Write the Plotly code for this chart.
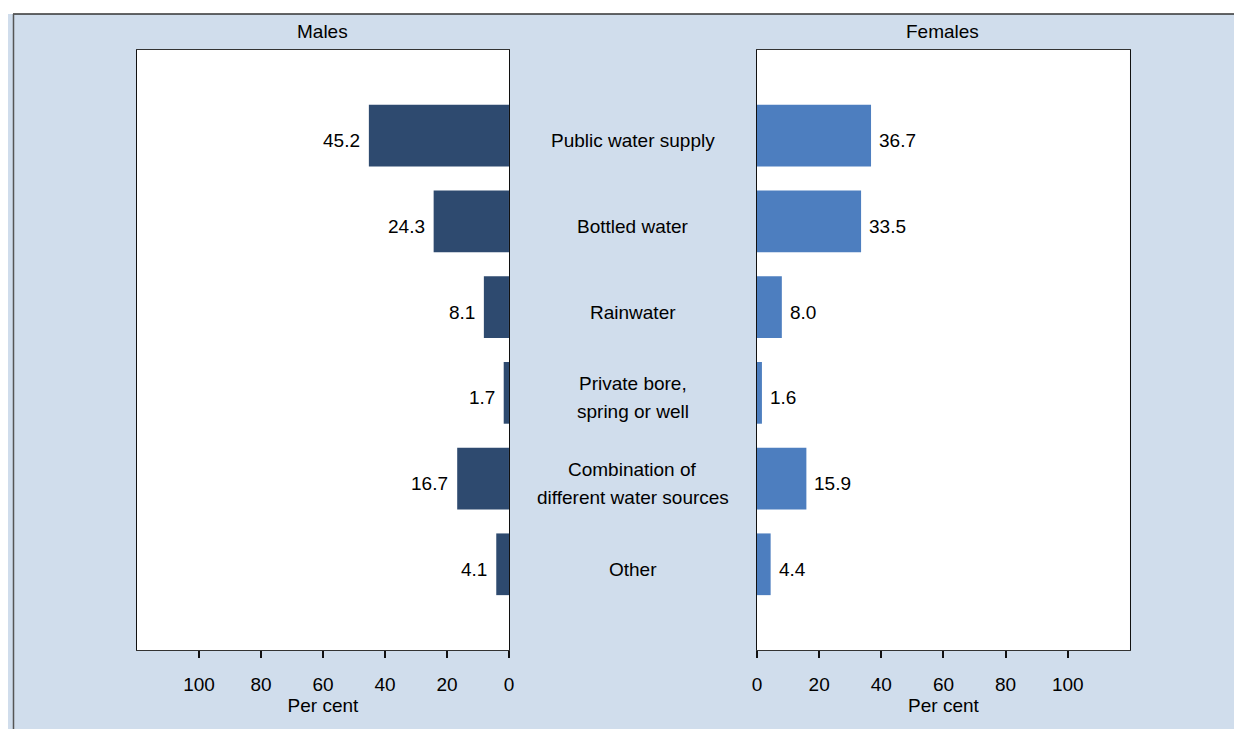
import plotly.graph_objects as go

# data
categories = [
    "Public water supply",
    "Bottled water",
    "Rainwater",
    "Private bore,<br>spring or well",
    "Combination of<br>different water sources",
    "Other",
]
males = [45.2, 24.3, 8.1, 1.7, 16.7, 4.1]
females = [36.7, 33.5, 8.0, 1.6, 15.9, 4.4]
tick_vals = [0, 20, 40, 60, 80, 100]

W, H = 1242, 729
FONT = "Arial, Liberation Sans, sans-serif"
FS = 19
TXT = "#000000"
BG = "#d0ddec"
MALE_COLOUR = "#2e4a6f"
FEMALE_COLOUR = "#4d7ebf"
ROW_SHIFT = -5  # row text sits a little below the bar centre


# page pixel -> paper fraction (corrects for page offset in the browser)
def fx(p):
    return ((p - 13) / 0.992) / W


def fy(p):
    return 1 - (p - 8) / H


ypos = list(range(len(categories)))

fig = go.Figure()
fig.add_trace(go.Bar(
    x=males, y=ypos, orientation="h", xaxis="x", yaxis="y",
    marker=dict(color=MALE_COLOUR, line=dict(width=0)), width=0.72, showlegend=False,
))
fig.add_trace(go.Bar(
    x=females, y=ypos, orientation="h", xaxis="x2", yaxis="y2",
    marker=dict(color=FEMALE_COLOUR, line=dict(width=0)), width=0.72, showlegend=False,
))

y_dom = [fy(650), fy(50)]
xaxis_common = dict(
    tickvals=tick_vals, ticks="outside", ticklen=7, tickwidth=2, tickcolor="#111111",
    tickfont=dict(size=FS, color=TXT), ticklabelstandoff=10,
    showgrid=False, zeroline=False,
    showline=True, mirror=True, linecolor="#333333", linewidth=1,
    title=dict(text="Per cent", font=dict(size=FS, color=TXT), standoff=0),
)
yaxis_common = dict(
    range=[len(categories), -1], showticklabels=False, ticks="", showgrid=False,
    zeroline=False, showline=True, mirror=True, linecolor="#111111", linewidth=1,
    domain=y_dom,
)

fig.update_layout(
    width=W, height=H, margin=dict(l=0, r=0, t=0, b=0),
    paper_bgcolor=BG, plot_bgcolor="white",
    font=dict(family=FONT, size=FS, color=TXT),
    xaxis=dict(domain=[fx(137), fx(509)], range=[120, 0], anchor="y", **xaxis_common),
    xaxis2=dict(domain=[fx(757), fx(1130)], range=[0, 120], anchor="y2", **xaxis_common),
    yaxis=dict(anchor="x", **yaxis_common),
    yaxis2=dict(anchor="x2", **yaxis_common),
    shapes=[
        # white strip above the framed panel
        dict(type="rect", xref="paper", yref="paper", x0=-0.01, x1=1.01, y0=fy(14), y1=1.01,
             fillcolor="white", line=dict(width=0)),
        dict(type="line", xref="paper", yref="paper", x0=0, x1=1.01, y0=fy(14), y1=fy(14),
             line=dict(color="#333333", width=1.5)),
        dict(type="line", xref="paper", yref="paper", x0=0.5 / W, x1=0.5 / W, y0=-0.01, y1=fy(14),
             line=dict(color="#555555", width=1.5)),
    ],
)

# value labels beside the bar ends
for i, v in enumerate(males):
    fig.add_annotation(text=f"{v:.1f}", x=v, y=i, xref="x", yref="y", xanchor="right",
                       yanchor="middle", xshift=-7, yshift=ROW_SHIFT, showarrow=False,
                       font=dict(size=FS, color=TXT))
for i, v in enumerate(females):
    fig.add_annotation(text=f"{v:.1f}", x=v, y=i, xref="x2", yref="y2", xanchor="left",
                       yanchor="middle", xshift=6, yshift=ROW_SHIFT, showarrow=False,
                       font=dict(size=FS, color=TXT))

# panel titles
for name, cx in [("Males", 323), ("Females", 943)]:
    fig.add_annotation(text=name, x=fx(cx), y=fy(32), xref="paper", yref="paper",
                       xanchor="center", yanchor="middle", showarrow=False,
                       font=dict(size=FS, color=TXT))

# category labels in the gap between the panels
for i, lab in enumerate(categories):
    lines = lab.split("<br>")
    n = len(lines)
    for j, line in enumerate(lines):
        fig.add_annotation(text=line, x=fx(633), y=i, xref="paper", yref="y",
                           xanchor="center", yanchor="middle",
                           yshift=(n - 1) * 14 - j * 28 + ROW_SHIFT, showarrow=False,
                           font=dict(size=FS, color=TXT))

fig.write_html("out.html")
